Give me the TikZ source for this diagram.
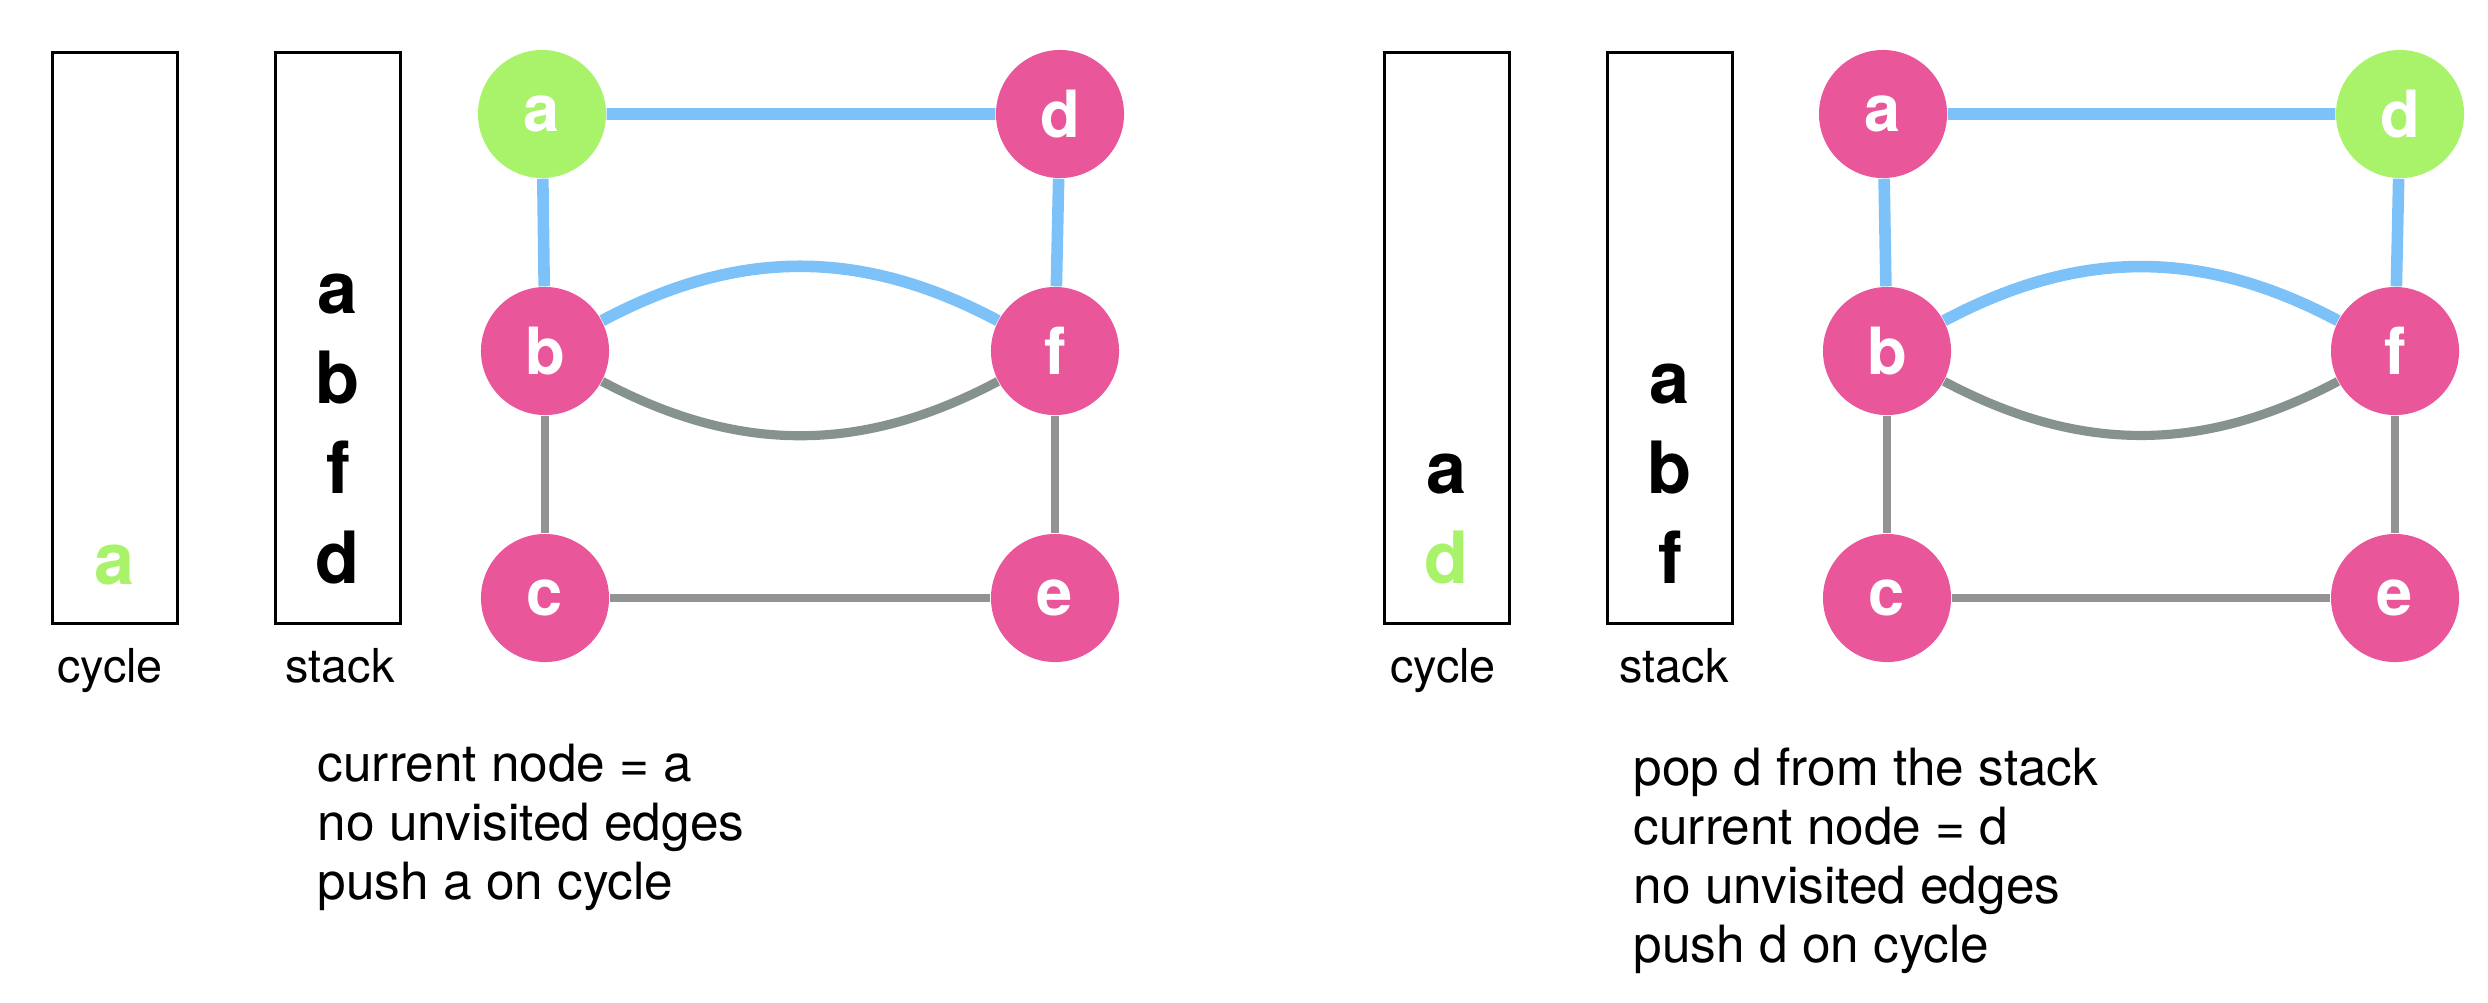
\documentclass[tikz,border=0pt]{standalone}
\usepackage{fontspec}
\setmainfont{TeX Gyre Heros}
\definecolor{vgreen}{HTML}{A9F36A}
\definecolor{vpink}{HTML}{E9579A}
\definecolor{vblue}{HTML}{7CC1F7}
\definecolor{vgray}{HTML}{939393}
\definecolor{vslate}{HTML}{86928F}
\begin{document}
\begin{tikzpicture}[x=0.01cm,y=-0.01cm,
	vtx/.style={circle,fill=vpink,inner sep=0pt,minimum size=1.28cm,text=white,font=\bfseries\fontsize{18.5}{20}\selectfont},
	cur/.style={vtx,fill=vgreen},
	box/.style={draw,line width=0.85pt,minimum width=1.24cm,minimum height=5.71cm,inner sep=0pt},
	item/.style={anchor=base,inner sep=0pt,font=\bfseries\fontsize{20.5}{22}\selectfont},
	lbl/.style={anchor=base,inner sep=0pt,font=\fontsize{13.3}{15}\selectfont},
	txt/.style={anchor=base west,inner sep=0pt,font=\fontsize{14.6}{17}\selectfont},
	seen/.style={line width=3.3pt,draw=vblue},
	todo/.style={line width=2.3pt,draw=vgray}]
	\useasboundingbox (0,0) rectangle (2488,1002);
	
	% left step
	\node[box] (lcycle) at (115,338) {};
	\node[box] (lstack) at (338,338) {};
	\node[lbl] (lcyclel) at (110,682) {cycle};
	\node[lbl] (lstackl) at (340,682) {stack};
	\node[item,text=vgreen] (lc1) at (115,584) {a};
	\foreach \v [count=\i] in {a,b,f,d}
	\node[item] (ls\i) at (338,{313+90*(\i-1)}) {\v};
	
	\node[cur] (la) at (542,114) {a};
	\node[vtx] (ld) at (1060,114) {d};
	\node[vtx] (lb) at (545,351) {b};
	\node[vtx] (lf) at (1055,351) {f};
	\node[vtx] (lc) at (545,598) {c};
	\node[vtx] (le) at (1055,598) {e};
	\draw[seen] (la) -- (ld) (la) -- (lb) (ld) -- (lf) (lb) to[bend left=28] (lf);
	\draw[todo] (lb) -- (lc) (lf) -- (le) (lc) -- (le);
	\draw[todo,line width=2.6pt,draw=vslate] (lb) to[bend right=28] (lf);
	
	\foreach \t [count=\i] in {current node = a,no unvisited edges,push a on cycle}
	\node[txt] (lt\i) at (317,{781+59*(\i-1)}) {\t};
	
	% right step
	\node[box] (rcycle) at (1447,338) {};
	\node[box] (rstack) at (1670,338) {};
	\node[lbl] (rcyclel) at (1443,682) {cycle};
	\node[lbl] (rstackl) at (1674,682) {stack};
	\node[item] (rc1) at (1447,493) {a};
	\node[item,text=vgreen] (rc2) at (1447,583) {d};
	\foreach \v [count=\i] in {a,b,f}
	\node[item] (rs\i) at (1670,{403+90*(\i-1)}) {\v};
	
	\node[vtx] (ra) at (1883,114) {a};
	\node[cur] (rd) at (2400,114) {d};
	\node[vtx] (rb) at (1887,351) {b};
	\node[vtx] (rf) at (2395,351) {f};
	\node[vtx] (rc) at (1887,598) {c};
	\node[vtx] (re) at (2395,598) {e};
	\draw[seen] (ra) -- (rd) (ra) -- (rb) (rd) -- (rf) (rb) to[bend left=28] (rf);
	\draw[todo] (rb) -- (rc) (rf) -- (re) (rc) -- (re);
	\draw[todo,line width=2.6pt,draw=vslate] (rb) to[bend right=28] (rf);
	
	\foreach \t [count=\i] in {pop d from the stack,current node = d,no unvisited edges,push d on cycle}
	\node[txt] (rt\i) at (1633,{785+59*(\i-1)}) {\t};
\end{tikzpicture}
\end{document}
